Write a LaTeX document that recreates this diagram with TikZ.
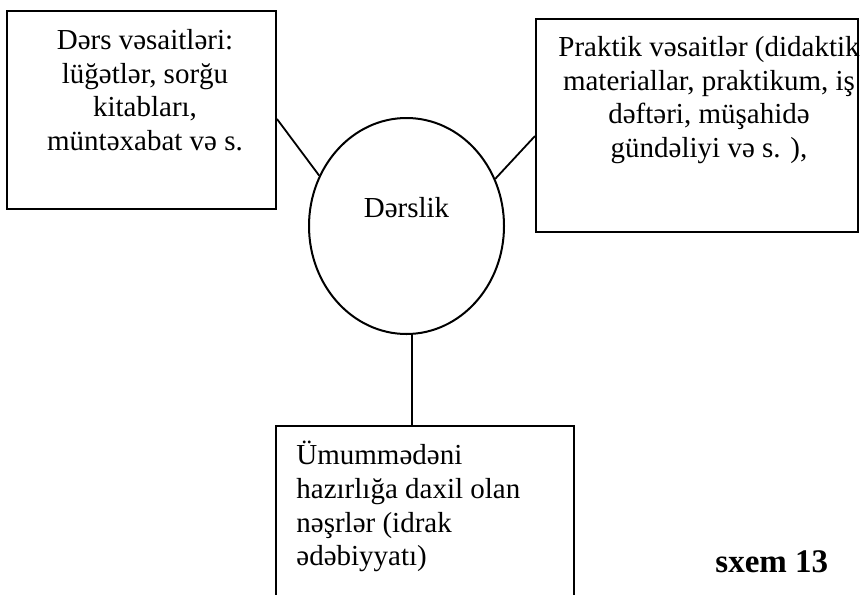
\documentclass[tikz,border=0pt]{standalone}
\usepackage{fontspec}
\setmainfont{Liberation Serif}
\usetikzlibrary{shapes.geometric}
\usetikzlibrary{positioning}
\tikzset{every node/.style={font=\fontsize{14.5}{16.8}\selectfont},
         book/.style={draw,rectangle,line width=1pt,inner sep=0pt},
         core/.style={draw,ellipse,line width=1pt,inner sep=0pt,
                      minimum width=97.5pt,minimum height=108pt,
                      text height=10pt,text depth=19pt},
         words/.style={inner sep=0pt,align=center},
         link/.style={line width=0.9pt},
         }

\begin{document}
\begin{tikzpicture}[x=0.5pt,y=-0.5pt]
\useasboundingbox (0,0) rectangle (860,594);
\node[core] (lesson) at (406.5,226) {Dərslik};
\node[book,minimum width=134.5pt,minimum height=99pt] (aids) at (141.5,110) {};
\node[book,minimum width=161pt,minimum height=106.5pt] (practice) at (697,125.5) {};
\node[book,minimum width=149pt,minimum height=97pt] (general) at (425,523) {};
\node[words,below=9.5pt of aids.north,xshift=1.75pt] (aidstext)
    {Dərs vəsaitləri:\\ lüğətlər, sorğu\\ kitabları,\\ müntəxabat və s.};
\node[words,below=9pt of practice.north,xshift=6pt] (practicetext)
    {Praktik vəsaitlər (didaktik\\ materiallar, praktikum, iş\\ dəftəri, müşahidə\\ gündəliyi və s. ),};
\node[words,align=left,below right=8pt and 10.5pt of general.north west] (generaltext)
    {Ümummədəni\\ hazırlığa daxil olan\\ nəşrlər (idrak\\ ədəbiyyatı)};
\node[font=\bfseries\fontsize{16.5}{19}\selectfont,anchor=base west,inner sep=0pt] (caption) at (715,572) {sxem 13};
\draw[link] ([yshift=-4.5pt]aids.east) -- (lesson.150);
\draw[link] ([yshift=-5.25pt]practice.west) -- (lesson.28);
\draw[link] (lesson.-87) -- (lesson.-87 |- general.north);
\end{tikzpicture}
\end{document}
